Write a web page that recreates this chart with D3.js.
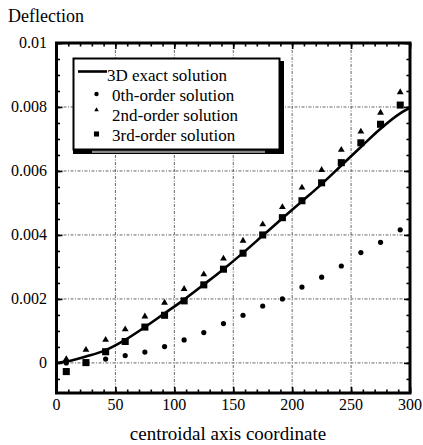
<!DOCTYPE html>
<html>
<head>
<meta charset="utf-8">
<script src="https://cdn.jsdelivr.net/npm/d3@7"></script>
<style>
  body { margin: 0; background: #fff; }
  svg { display: block; }
  svg text { font-family: "Liberation Serif", "Times New Roman", Times, Tinos, "Noto Serif", "DejaVu Serif", serif; }
  .grid line { stroke: #555; stroke-width: 0.9; stroke-dasharray: 3,1.5,1,1.5; }
</style>
</head>
<body>
<svg id="chart" width="423" height="445"></svg>
<script>
// sample positions along the centroidal axis
let xs = [8.3, 25, 41.7, 58.3, 75, 91.7, 108.3, 125, 141.7, 158.3, 175, 191.7, 208.3, 225, 241.7, 258.3, 275, 291.7];

let exactX = [0, 8.3, 25, 41.7, 58.3, 75, 91.7, 108.3, 125, 141.7, 158.3, 175, 191.7, 208.3, 225, 241.7, 258.3, 275, 291.7, 300];
let exactY = [0, 0.00004, 0.0002, 0.0004, 0.00072, 0.00112, 0.00155, 0.00198, 0.00245, 0.00293, 0.00344, 0.00398, 0.00452, 0.00505, 0.00559, 0.00617, 0.00675, 0.00732, 0.0078, 0.00797];

let order0 = [0.0, 0.00003, 0.00012, 0.00023, 0.00034, 0.00051, 0.00072, 0.00095, 0.00123, 0.00149, 0.00178, 0.002, 0.00237, 0.00268, 0.00303, 0.00345, 0.00377, 0.00416];
let order2 = [0.00012, 0.00041, 0.00072, 0.00105, 0.00145, 0.00188, 0.00231, 0.00277, 0.00326, 0.00382, 0.00433, 0.00487, 0.00548, 0.00603, 0.00666, 0.00723, 0.00782, 0.00846];
let order3 = [-0.00027, 0.00001, 0.00035, 0.00067, 0.00112, 0.00149, 0.00194, 0.00244, 0.00293, 0.00343, 0.004, 0.00454, 0.00507, 0.00563, 0.00626, 0.00688, 0.00746, 0.00806];

let xTicks = [0, 50, 100, 150, 200, 250, 300];
let yTicks = [0, 0.002, 0.004, 0.006, 0.008, 0.01];
let yTickLabels = ["0", "0.002", "0.004", "0.006", "0.008", "0.01"];
let legendLabels = ["3D exact solution", "0th-order solution", "2nd-order solution", "3rd-order solution"];

let margin = { left: 56.5, top: 43, right: 13, bottom: 52 };
let width = 423, height = 445;
let bodyWidth = width - margin.left - margin.right;
let bodyHeight = height - margin.top - margin.bottom;

let svg = d3.select("#chart");
let body = svg.append("g").attr("transform", `translate(${margin.left},${margin.top})`);

let xScale = d3.scaleLinear().domain([0, 300]).range([0, bodyWidth]);
let yScale = d3.scaleLinear().domain([-0.00094, 0.01]).range([bodyHeight, 0]);

// grid
let grid = body.append("g").attr("class", "grid");
grid.selectAll(".gx").data(xTicks.slice(1, -1)).join("line")
    .attr("x1", d => xScale(d)).attr("x2", d => xScale(d))
    .attr("y1", 0).attr("y2", bodyHeight);
grid.selectAll(".gy").data(yTicks.slice(0, -1)).join("line")
    .attr("x1", 0).attr("x2", bodyWidth)
    .attr("y1", d => yScale(d)).attr("y2", d => yScale(d));

// inward ticks on all four sides
let minorX = d3.range(0, 301, 10);
let minorY = d3.range(-0.0005, 0.01001, 0.0005);
let tickAxes = [
    [d3.axisBottom(xScale).tickValues(xTicks).tickSize(-6), `translate(0,${bodyHeight})`],
    [d3.axisBottom(xScale).tickValues(minorX).tickSize(-3.5), `translate(0,${bodyHeight})`],
    [d3.axisTop(xScale).tickValues(xTicks).tickSize(-6), "translate(0,0)"],
    [d3.axisTop(xScale).tickValues(minorX).tickSize(-3.5), "translate(0,0)"],
    [d3.axisLeft(yScale).tickValues(yTicks).tickSize(-6), "translate(0,0)"],
    [d3.axisLeft(yScale).tickValues(minorY).tickSize(-3.5), "translate(0,0)"],
    [d3.axisRight(yScale).tickValues(yTicks).tickSize(-6), `translate(${bodyWidth},0)`],
    [d3.axisRight(yScale).tickValues(minorY).tickSize(-3.5), `translate(${bodyWidth},0)`]
];
tickAxes.forEach(([ax, tr]) => {
    let g = body.append("g").attr("transform", tr).call(ax.tickFormat(""));
    g.select(".domain").remove();
    g.selectAll("line").attr("stroke", "#000").attr("stroke-width", 1.6);
    g.selectAll("text").remove();
});

// tick labels
body.append("g").selectAll("text").data(xTicks).join("text")
    .attr("x", d => xScale(d)).attr("y", bodyHeight + 17)
    .attr("text-anchor", "middle").attr("font-size", 16).text(d => d);
body.append("g").selectAll("text").data(yTicks).join("text")
    .attr("x", -9.5).attr("y", d => yScale(d) + 5)
    .attr("text-anchor", "end").attr("font-size", 16).text((d, i) => yTickLabels[i]);

// frame
body.append("rect").attr("width", bodyWidth).attr("height", bodyHeight)
    .attr("fill", "none").attr("stroke", "#000").attr("stroke-width", 3);

// exact solution line
let line = d3.line().x(d => xScale(d[0])).y(d => yScale(d[1])).curve(d3.curveMonotoneX);
body.append("path").datum(exactX.map((x, i) => [x, exactY[i]]))
    .attr("d", line).attr("fill", "none").attr("stroke", "#000").attr("stroke-width", 2.6);

// markers
let sym = (type, size) => d3.symbol().type(type).size(size);
body.append("g").selectAll("circle").data(order0).join("circle")
    .attr("cx", (d, i) => xScale(xs[i])).attr("cy", d => yScale(d)).attr("r", 2.6);
body.append("g").selectAll("path").data(order2).join("path")
    .attr("transform", (d, i) => `translate(${xScale(xs[i])},${yScale(d)})`)
    .attr("d", sym(d3.symbolTriangle, 20));
body.append("g").selectAll("path").data(order3).join("path")
    .attr("transform", (d, i) => `translate(${xScale(xs[i])},${yScale(d)})`)
    .attr("d", sym(d3.symbolSquare, 50));

// legend
let lg = svg.append("g");
lg.append("rect").attr("x", 279).attr("y", 61).attr("width", 5).attr("height", 93).attr("fill", "#000");
lg.append("rect").attr("x", 73).attr("y", 149).attr("width", 211).attr("height", 5).attr("fill", "#000");
lg.append("rect").attr("x", 92).attr("y", 150.5).attr("width", 173).attr("height", 2.5).attr("fill", "#888");
lg.append("rect").attr("x", 73.5).attr("y", 58.5).attr("width", 206).attr("height", 91)
    .attr("fill", "#fff").attr("stroke", "#000").attr("stroke-width", 2);

let rowBase = [81, 101, 121, 141];
lg.selectAll("text").data(legendLabels).join("text")
    .attr("x", (d, i) => i == 0 ? 107 : 112).attr("y", (d, i) => rowBase[i])
    .attr("font-size", 17).text(d => d);
lg.append("line").attr("x1", 78).attr("x2", 107).attr("y1", 71.5).attr("y2", 71.5)
    .attr("stroke", "#000").attr("stroke-width", 2.6);
lg.append("circle").attr("cx", 96.5).attr("cy", rowBase[1] - 7).attr("r", 2.2);
lg.append("path").attr("transform", `translate(96.5,${rowBase[2] - 11})`).attr("d", sym(d3.symbolTriangle, 9));
lg.append("path").attr("transform", `translate(96.5,${rowBase[3] - 7})`).attr("d", sym(d3.symbolSquare, 26));

// titles
svg.append("text").attr("x", 8).attr("y", 22).attr("font-size", 18).text("Deflection");
svg.append("text").attr("x", 228).attr("y", 440).attr("text-anchor", "middle")
    .attr("font-size", 19).text("centroidal axis coordinate");
</script>
</body>
</html>
